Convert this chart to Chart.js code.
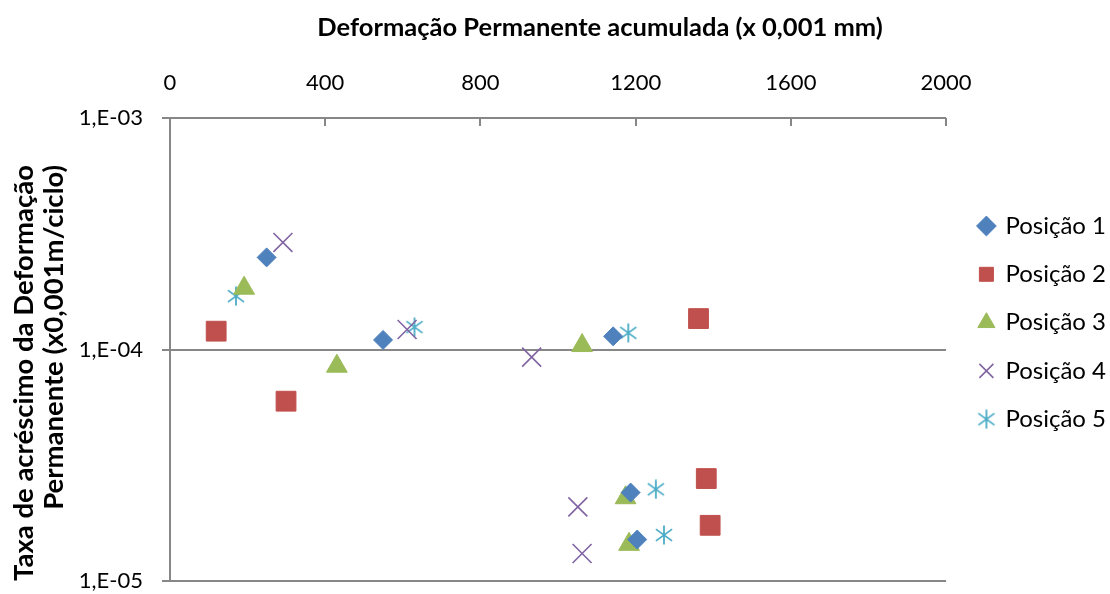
<!DOCTYPE html>
<html><head><meta charset="utf-8">
<script src="https://cdn.jsdelivr.net/npm/chart.js@4.4.1/dist/chart.umd.min.js"></script>
<style>html,body{margin:0;padding:0;background:#fff}#wrap{width:1110px;height:594px}</style>
</head><body><div id="wrap"><canvas id="c" width="1110" height="594"></canvas></div>
<script>
// ---- data ----
const seriesNames = ['Posição 1', 'Posição 2', 'Posição 3', 'Posição 4', 'Posição 5'];
const p1x = [249, 549, 1142, 1187, 1204];
const p1y = [2.5e-4, 1.10e-4, 1.14e-4, 2.41e-5, 1.51e-5];
const p2x = [119, 299, 1362, 1382, 1392];
const p2y = [1.20e-4, 5.98e-5, 1.36e-4, 2.77e-5, 1.74e-5];
const p3x = [191, 430, 1062, 1174, 1183];
const p3y = [1.84e-4, 8.47e-5, 1.04e-4, 2.29e-5, 1.44e-5];
const p4x = [291, 611, 932, 1051, 1062];
const p4y = [2.90e-4, 1.22e-4, 9.27e-5, 2.09e-5, 1.315e-5];
const p5x = [170, 630, 1181, 1252, 1273];
const p5y = [1.70e-4, 1.25e-4, 1.18e-4, 2.49e-5, 1.58e-5];
const xTicks = [0, 400, 800, 1200, 1600, 2000];
const xTickLabels = ['0', '400', '800', '1200', '1600', '2000'];
const yTicks = [1e-5, 1e-4, 1e-3];
const yTickLabels = ['1,E-05', '1,E-04', '1,E-03'];
const xTitle = 'Deformação Permanente acumulada (x 0,001 mm)';
const yTitle = ['Taxa de acréscimo da Deformação', 'Permanente (x0,001m/ciclo)'];

// ---- styles ----
const colors = ['#4F81BD', '#C0504D', '#9BBB59', '#8064A2', '#4BACC6'];
const FONT = 'Lato, "Open Sans", sans-serif';
const GRID = '#878787';

function starCanvas(color, size) {
  const c = document.createElement('canvas');
  c.width = size; c.height = size;
  const g = c.getContext('2d');
  g.strokeStyle = color; g.lineWidth = 1.8; g.lineCap = 'butt';
  const m = size / 2, r = size / 2 - 0.5;
  g.beginPath();
  g.moveTo(m, m - r); g.lineTo(m, m + r);
  g.moveTo(m - r * 0.85, m - r * 0.62); g.lineTo(m + r * 0.85, m + r * 0.62);
  g.moveTo(m + r * 0.85, m - r * 0.62); g.lineTo(m - r * 0.85, m + r * 0.62);
  g.stroke();
  return c;
}
const starBig = starCanvas(colors[4], 20);

function pts(xs, ys) { return xs.map((x, i) => ({ x: x, y: ys[i] })); }

const datasets = [
  { label: seriesNames[0], data: pts(p1x, p1y), pointStyle: 'rectRot', pointRadius: 9.5, borderWidth: 1 },
  { label: seriesNames[1], data: pts(p2x, p2y), pointStyle: 'rect', pointRadius: 14, borderWidth: 1 },
  { label: seriesNames[2], data: pts(p3x, p3y), pointStyle: 'triangle', pointRadius: 12, borderWidth: 1 },
  { label: seriesNames[3], data: pts(p4x, p4y), pointStyle: 'crossRot', pointRadius: 13.4, borderWidth: 1.6 },
  { label: seriesNames[4], data: pts(p5x, p5y), pointStyle: starBig, pointRadius: 10, borderWidth: 1.6 }
].map((d, i) => Object.assign(d, {
  backgroundColor: colors[i], borderColor: colors[i], pointBackgroundColor: colors[i],
  pointBorderColor: colors[i], pointBorderWidth: d.borderWidth, showLine: false
}));

const decor = {
  id: 'decor',
  afterDraw(chart) {
    const ctx = chart.ctx, xs = chart.scales.x, top = chart.chartArea.top;
    ctx.save();
    ctx.strokeStyle = GRID; ctx.lineWidth = 2;
    xTicks.forEach(v => {
      const px = Math.round(xs.getPixelForValue(v));
      ctx.beginPath(); ctx.moveTo(px, top); ctx.lineTo(px, top + 8); ctx.stroke();
    });
    ctx.fillStyle = '#000';
    ctx.font = 'bold 25.5px ' + FONT;
    ctx.textAlign = 'center'; ctx.textBaseline = 'middle';
    ctx.fillText(xTitle, 600, 28);
    // y axis title (two lines, rotated)
    ctx.font = 'bold 27.5px ' + FONT;
    ctx.textAlign = 'right';
    ctx.translate(0, 165);
    ctx.rotate(-Math.PI / 2);
    ctx.fillText(yTitle[0], 0, 24);
    ctx.fillText(yTitle[1], 0, 54);
    ctx.restore();
  }
};

new Chart(document.getElementById('c'), {
  type: 'scatter',
  data: { datasets: datasets },
  plugins: [decor],
  options: {
    responsive: false, animation: false, devicePixelRatio: 1, events: [],
    layout: { autoPadding: false, padding: { top: 47.6, right: -6, bottom: 13, left: 0 } },
    plugins: {
      tooltip: { enabled: false },
      legend: {
        position: 'right',
        title: { display: true, text: ' ', font: { family: FONT, size: 8 }, padding: 3.5 },
        labels: { usePointStyle: true, boxWidth: 14, boxHeight: 14, padding: 24.3, color: '#000',
                  font: { family: FONT, size: 24 } }
      }
    },
    scales: {
      x: {
        type: 'linear', position: 'top', min: 0, max: 2000,
        afterBuildTicks: s => { s.ticks = xTicks.map(v => ({ value: v })); },
        grid: { display: false, drawTicks: false, tickLength: 0 }, border: { display: false },
        ticks: { color: '#000', font: { family: FONT, size: 22 }, padding: 22, maxRotation: 0,
                 callback: (v) => { const i = xTicks.indexOf(v); return i >= 0 ? xTickLabels[i] : ''; } },
        afterFit: s => { s.paddingTop = 0; s.paddingBottom = 0; }
      },
      y: {
        type: 'logarithmic', min: 1e-5, max: 1e-3,
        afterBuildTicks: s => { s.ticks = yTicks.map(v => ({ value: v })); },
        afterFit: s => { s.width = 170; s.paddingTop = 0; s.paddingBottom = 0; },
        grid: { color: GRID, lineWidth: 2, tickLength: 8 },
        border: { color: GRID, width: 2 },
        ticks: { color: '#000', font: { family: FONT, size: 22 }, padding: 19,
                 callback: (v) => { const i = yTicks.indexOf(v); return i >= 0 ? yTickLabels[i] : ''; } }
      },
      gap: {
        type: 'linear', position: 'right', display: true, min: 0, max: 1,
        grid: { display: false, drawTicks: false }, border: { display: false }, ticks: { display: false },
        afterFit: s => { s.width = 9; s.paddingTop = 0; s.paddingBottom = 0; }
      }
    }
  }
});
</script></body></html>
